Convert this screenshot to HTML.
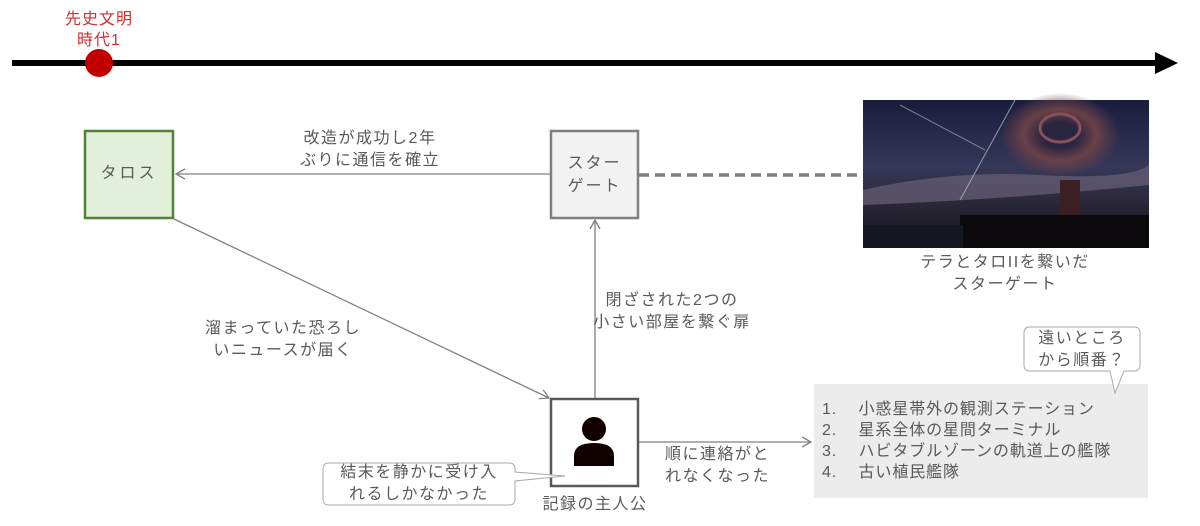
<!DOCTYPE html>
<html><head><meta charset="utf-8"><style>
body{margin:0;width:1200px;height:526px;background:#fff;overflow:hidden;font-family:"Liberation Sans","Noto Sans CJK JP",sans-serif;}
.t{position:absolute;color:#595959;font-size:16px;line-height:22px;text-align:center;white-space:nowrap;letter-spacing:1.5px;}
</style></head><body>
<svg width="1200" height="526" style="position:absolute;left:0;top:0">
<defs>
<marker id="a" markerWidth="12" markerHeight="12" refX="10" refY="6" orient="auto" markerUnits="userSpaceOnUse"><path d="M1,1 L10,6 L1,11" fill="none" stroke="#808080" stroke-width="1.3"/></marker>
<linearGradient id="sky" x1="0" y1="0" x2="0" y2="1"><stop offset="0" stop-color="#1a1c3e"/><stop offset="0.45" stop-color="#353858"/><stop offset="0.7" stop-color="#2a2838"/><stop offset="1" stop-color="#111115"/></linearGradient>
<radialGradient id="ring" cx="0.5" cy="0.5" r="0.5"><stop offset="0.3" stop-color="#2a2540"/><stop offset="0.6" stop-color="#6a4048"/><stop offset="1" stop-color="#6a4048" stop-opacity="0"/></radialGradient>
</defs>
<line x1="12" y1="63" x2="1160" y2="63" stroke="#000" stroke-width="6"/>
<polygon points="1155,52 1178,63 1155,74" fill="#000"/>
<circle cx="99" cy="63" r="14" fill="#c00000"/>
<rect x="85" y="131" width="88" height="87" fill="#e2efda" stroke="#548235" stroke-width="2.5"/>
<rect x="551" y="131" width="87" height="87" fill="#f2f2f2" stroke="#7f7f7f" stroke-width="2.5"/>
<rect x="551" y="399" width="87" height="87" fill="#fff" stroke="#595959" stroke-width="2.5"/>
<line x1="550" y1="174" x2="176" y2="174" stroke="#808080" stroke-width="1.3" marker-end="url(#a)"/>
<line x1="639" y1="175" x2="862" y2="175" stroke="#7f7f7f" stroke-width="3.5" stroke-dasharray="10,6"/>
<line x1="174" y1="219" x2="549" y2="398" stroke="#808080" stroke-width="1.3" marker-end="url(#a)"/>
<line x1="595" y1="398" x2="595" y2="220" stroke="#808080" stroke-width="1.3" marker-end="url(#a)"/>
<line x1="639" y1="442" x2="811" y2="442" stroke="#808080" stroke-width="1.3" marker-end="url(#a)"/>
<circle cx="594" cy="429" r="12" fill="#110000"/>
<path d="M574,466 L574,456 Q574,443 594,443 Q614,443 614,456 L614,466 Z" fill="#110000"/>
<rect x="814" y="384" width="334" height="114" fill="#ececec"/>
<path d="M1030,327 H1134 Q1140,327 1140,333 V365 Q1140,371 1134,371 H1124 L1115,393 L1110,371 H1030 Q1024,371 1024,365 V333 Q1024,327 1030,327 Z" fill="#fff" stroke="#aaa" stroke-width="1"/>
<path d="M329,463 H509 Q515,463 515,469 V472 L565,476 L515,481 V499 Q515,505 509,505 H329 Q323,505 323,499 V469 Q323,463 329,463 Z" fill="#fff" stroke="#aaa" stroke-width="1"/>
<rect x="863" y="100" width="286" height="148" fill="url(#sky)"/>
<ellipse cx="1060" cy="135" rx="60" ry="42" fill="url(#ring)"/>
<ellipse cx="1060" cy="128" rx="20" ry="14" fill="none" stroke="#8a5058" stroke-width="3"/>
<path d="M863,190 Q950,170 1040,175 T1149,165 V185 Q1000,200 863,205 Z" fill="#6a6078" opacity="0.7"/>
<line x1="900" y1="105" x2="985" y2="150" stroke="#9aa" stroke-width="1" opacity="0.7"/>
<line x1="1015" y1="100" x2="960" y2="200" stroke="#bcc" stroke-width="1" opacity="0.7"/>
<path d="M960,248 V215 H1060 V180 H1080 V215 H1149 V248 Z" fill="#0c0a0c"/>
<rect x="1060" y="180" width="20" height="35" fill="#3a2022"/>
<rect x="863" y="225" width="100" height="23" fill="#151820"/>
</svg>
<div class="t" style="left:49px;top:9px;width:100px;color:#d03030;font-size:16px;line-height:21px;letter-spacing:1px">先史文明<br>時代1</div>
<div class="t" style="left:85px;top:163px;width:88px;letter-spacing:3px">タロス</div>
<div class="t" style="left:551px;top:152px;width:87px;line-height:23px;letter-spacing:2px">スター<br>ゲート</div>
<div class="t" style="left:270px;top:128px;width:200px">改造が成功し2年<br>ぶりに通信を確立</div>
<div class="t" style="left:183px;top:318px;width:200px">溜まっていた恐ろし<br>いニュースが届く</div>
<div class="t" style="left:572px;top:290px;width:200px">閉ざされた2つの<br>小さい部屋を繋ぐ扉</div>
<div class="t" style="left:665px;top:444px;width:110px;text-align:left">順に連絡がと<br>れなくなった</div>
<div class="t" style="left:495px;top:494px;width:200px">記録の主人公</div>
<div class="t" style="left:905px;top:252px;width:200px">テラとタロIIを繋いだ<br>スターゲート</div>
<div class="t" style="left:1024px;top:328px;width:116px">遠いところ<br>から順番？</div>
<div class="t" style="left:323px;top:462px;width:192px">結末を静かに受け入<br>れるしかなかった</div>
<div class="t" style="left:822px;top:399px;text-align:left;line-height:21px;letter-spacing:0.9px">1.&nbsp;&nbsp;&nbsp;&nbsp;小惑星帯外の観測ステーション<br>2.&nbsp;&nbsp;&nbsp;&nbsp;星系全体の星間ターミナル<br>3.&nbsp;&nbsp;&nbsp;&nbsp;ハビタブルゾーンの軌道上の艦隊<br>4.&nbsp;&nbsp;&nbsp;&nbsp;古い植民艦隊</div>
</body></html>
